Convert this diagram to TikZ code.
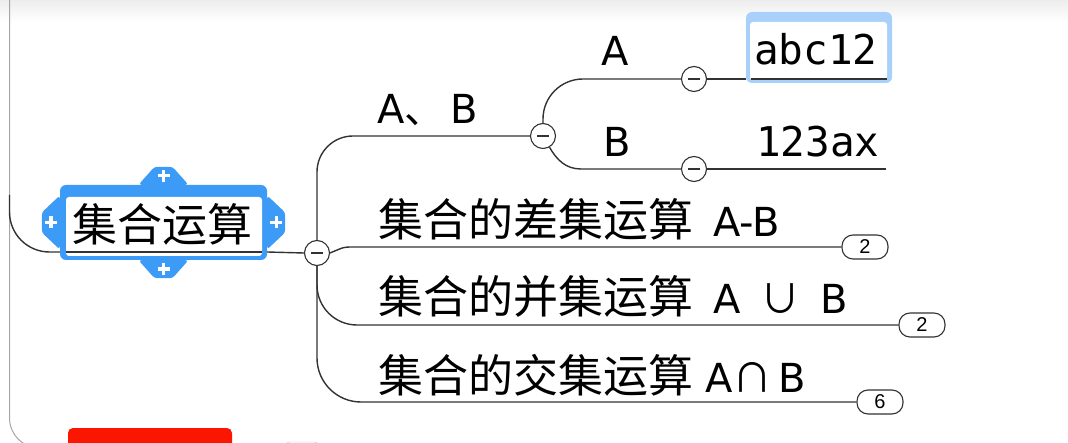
\documentclass[tikz,border=0pt]{standalone}
\usepackage{fontspec}
\setmainfont{DejaVu Sans}
\newfontfamily\cjk{Noto Sans CJK SC}
\newfontfamily\leafmono{DejaVu Sans Mono}
\newfontfamily\pillfont{Liberation Sans}
\usetikzlibrary{positioning,calc}
\definecolor{rootblue}{RGB}{60,155,246}
\definecolor{selblue}{RGB}{168,208,250}
\definecolor{linegray}{RGB}{50,50,50}
\definecolor{tagred}{RGB}{250,22,0}
\newcommand{\zh}[1]{{\cjk\fontsize{45}{50}\selectfont #1}}

\begin{document}
\begin{tikzpicture}[x=1pt,y=-1pt,
  conn/.style={draw=linegray,line width=1.4pt},
  collapse/.style={circle,draw=linegray,line width=1.1pt,fill=white,minimum size=25pt,inner sep=0pt,
    path picture={\draw[line width=1.5pt] ([xshift=-6pt]path picture bounding box.center) -- ([xshift=6pt]path picture bounding box.center);}},
  pill/.style={draw=linegray,line width=1.1pt,fill=white,rounded corners=11pt,minimum width=46pt,minimum height=24pt,inner sep=0pt,font=\pillfont\fontsize{20}{20}\selectfont},
  tab/.style={fill=rootblue,rounded corners=3pt},
  plus/.style={draw=white,line width=3.4pt},
  topic/.style={anchor=base west,inner sep=0pt,font=\fontsize{40}{44}\selectfont},
  sub/.style={anchor=base west,inner sep=0pt,font=\fontsize{40}{44}\selectfont},
  leaf/.style={anchor=base west,inner sep=0pt,font=\leafmono\fontsize{41}{44}\selectfont}
]
\useasboundingbox (0,0) rectangle (1068,443);
\clip (0,0) rectangle (1068,443);
\fill[top color=black!7,bottom color=white] (0,0) rectangle (1068,22);

% outer frame of the parent topic
\draw[black!35,line width=1pt,rounded corners=30pt] (9.5,-5) |- (60,448);
\node[fill=tagred,rounded corners=5pt,minimum width=164pt,minimum height=30pt] (tag) at (150,443) {};
\node[draw=black!25,fill=white,rounded corners=6pt,minimum width=36pt,minimum height=14pt] (ghost) at (302,449) {};

% central topic
\node[fill=rootblue,rounded corners=6pt,minimum width=207pt,minimum height=75pt] (root) at (163.5,222.5) {};
\fill[tab] ($(root.north)+(-25,0)$) -- ++(16,-18) -- ++(18,0) -- ++(16,18) -- cycle;
\fill[tab] ($(root.south)+(-25,0)$) -- ++(16,18) -- ++(18,0) -- ++(16,-18) -- cycle;
\fill[tab] ($(root.west)+(0,-27)$) -- ++(-18,17) -- ++(0,20) -- ++(18,17) -- cycle;
\fill[tab] ($(root.east)+(0,-27)$) -- ++(18,17) -- ++(0,20) -- ++(-18,17) -- cycle;
\foreach \p/\dx/\dy in {north/0/-9,south/0/9,west/-9/0,east/9/0}
  \draw[plus] ($(root.\p)+(\dx-6,\dy)$) -- ++(12,0) ($(root.\p)+(\dx,\dy-6)$) -- ++(0,12);
\node[fill=white,rounded corners=3pt,minimum width=196pt,minimum height=59pt,inner sep=0pt] (rootpad) at (164,226.5) {};
\node[anchor=base,inner sep=0pt,font=\cjk\fontsize{45}{50}\selectfont] (roottxt) at (162,242) {集合运算};
\coordinate (uL) at (66,252);
\coordinate (uR) at (262,252);
\draw[conn] (uL) -- (uR);
\draw[conn,rounded corners=40pt] (9.5,195) |- (root.west |- uL);

% collapse buttons and counters
\node[collapse] (c0) at (317,253) {};
\node[collapse] (c1) at (543,136) {};
\node[collapse] (c2) at (694,79) {};
\node[collapse] (c3) at (694,169) {};
\node[pill] (p1) at (865,247) {2};
\node[pill] (p2) at (922,325) {2};
\node[pill] (p3) at (880,402) {6};

% branches
\draw[conn] (root.east |- uR) -- (c0.west);
\draw[conn,rounded corners=36pt] (c0.north) |- (c1.west);
\draw[conn] (c0.east) .. controls +(14,-6) .. ([xshift=-490pt]p1.west) -- (p1.west);
\draw[conn,rounded corners=40pt] (c0.south) |- (p2.west);
\draw[conn,rounded corners=44pt] (c0.south) |- (p3.west);
\draw[conn,rounded corners=40pt] (c1.north) |- (c2.west);
\draw[conn] (c1.-60) to[out=-60,in=180] ([xshift=-100pt]c3.west) -- (c3.west);

% topics
\node[sub] (tab) at (377,124) {A{\cjk 、}\hspace{6pt}B};
\node[topic] (tdiff) at (378,237) {\zh{集合的差集运算}\hspace{20pt}A-B};
\node[topic] (tunion) at (378,314) {\zh{集合的并集运算}\hspace{20pt}A\hspace{20pt}{\cjk ∪}\hspace{20pt}B};
\node[topic] (tinter) at (378,392) {\zh{集合的交集运算}\hspace{12pt}A{\cjk ∩}\hspace{6pt}B};
\node[sub] (ta) at (601,66) {A};
\node[sub] (tb) at (603,157) {B};

% leaves
\node[fill=selblue,rounded corners=6pt,minimum width=146pt,minimum height=71pt,inner sep=0pt] (sel) at (819,47.5) {};
\node[fill=white,rounded corners=3pt,minimum width=137pt,minimum height=58pt,inner sep=0pt] (selpad) at (818.5,51) {};
\node[leaf] (abc) at (754,65) {abc12};
\node[leaf] (b123) at (756,157) {123ax};
\draw[conn] (c2.east) -- (sel.west |- c2);
\draw[conn] ([xshift=-3pt]abc.west |- c2) -- ([xshift=-5pt]sel.east |- c2);
\draw[conn] (c3.east) -- ([xshift=6pt]b123.east |- c3);
\end{tikzpicture}
\end{document}
